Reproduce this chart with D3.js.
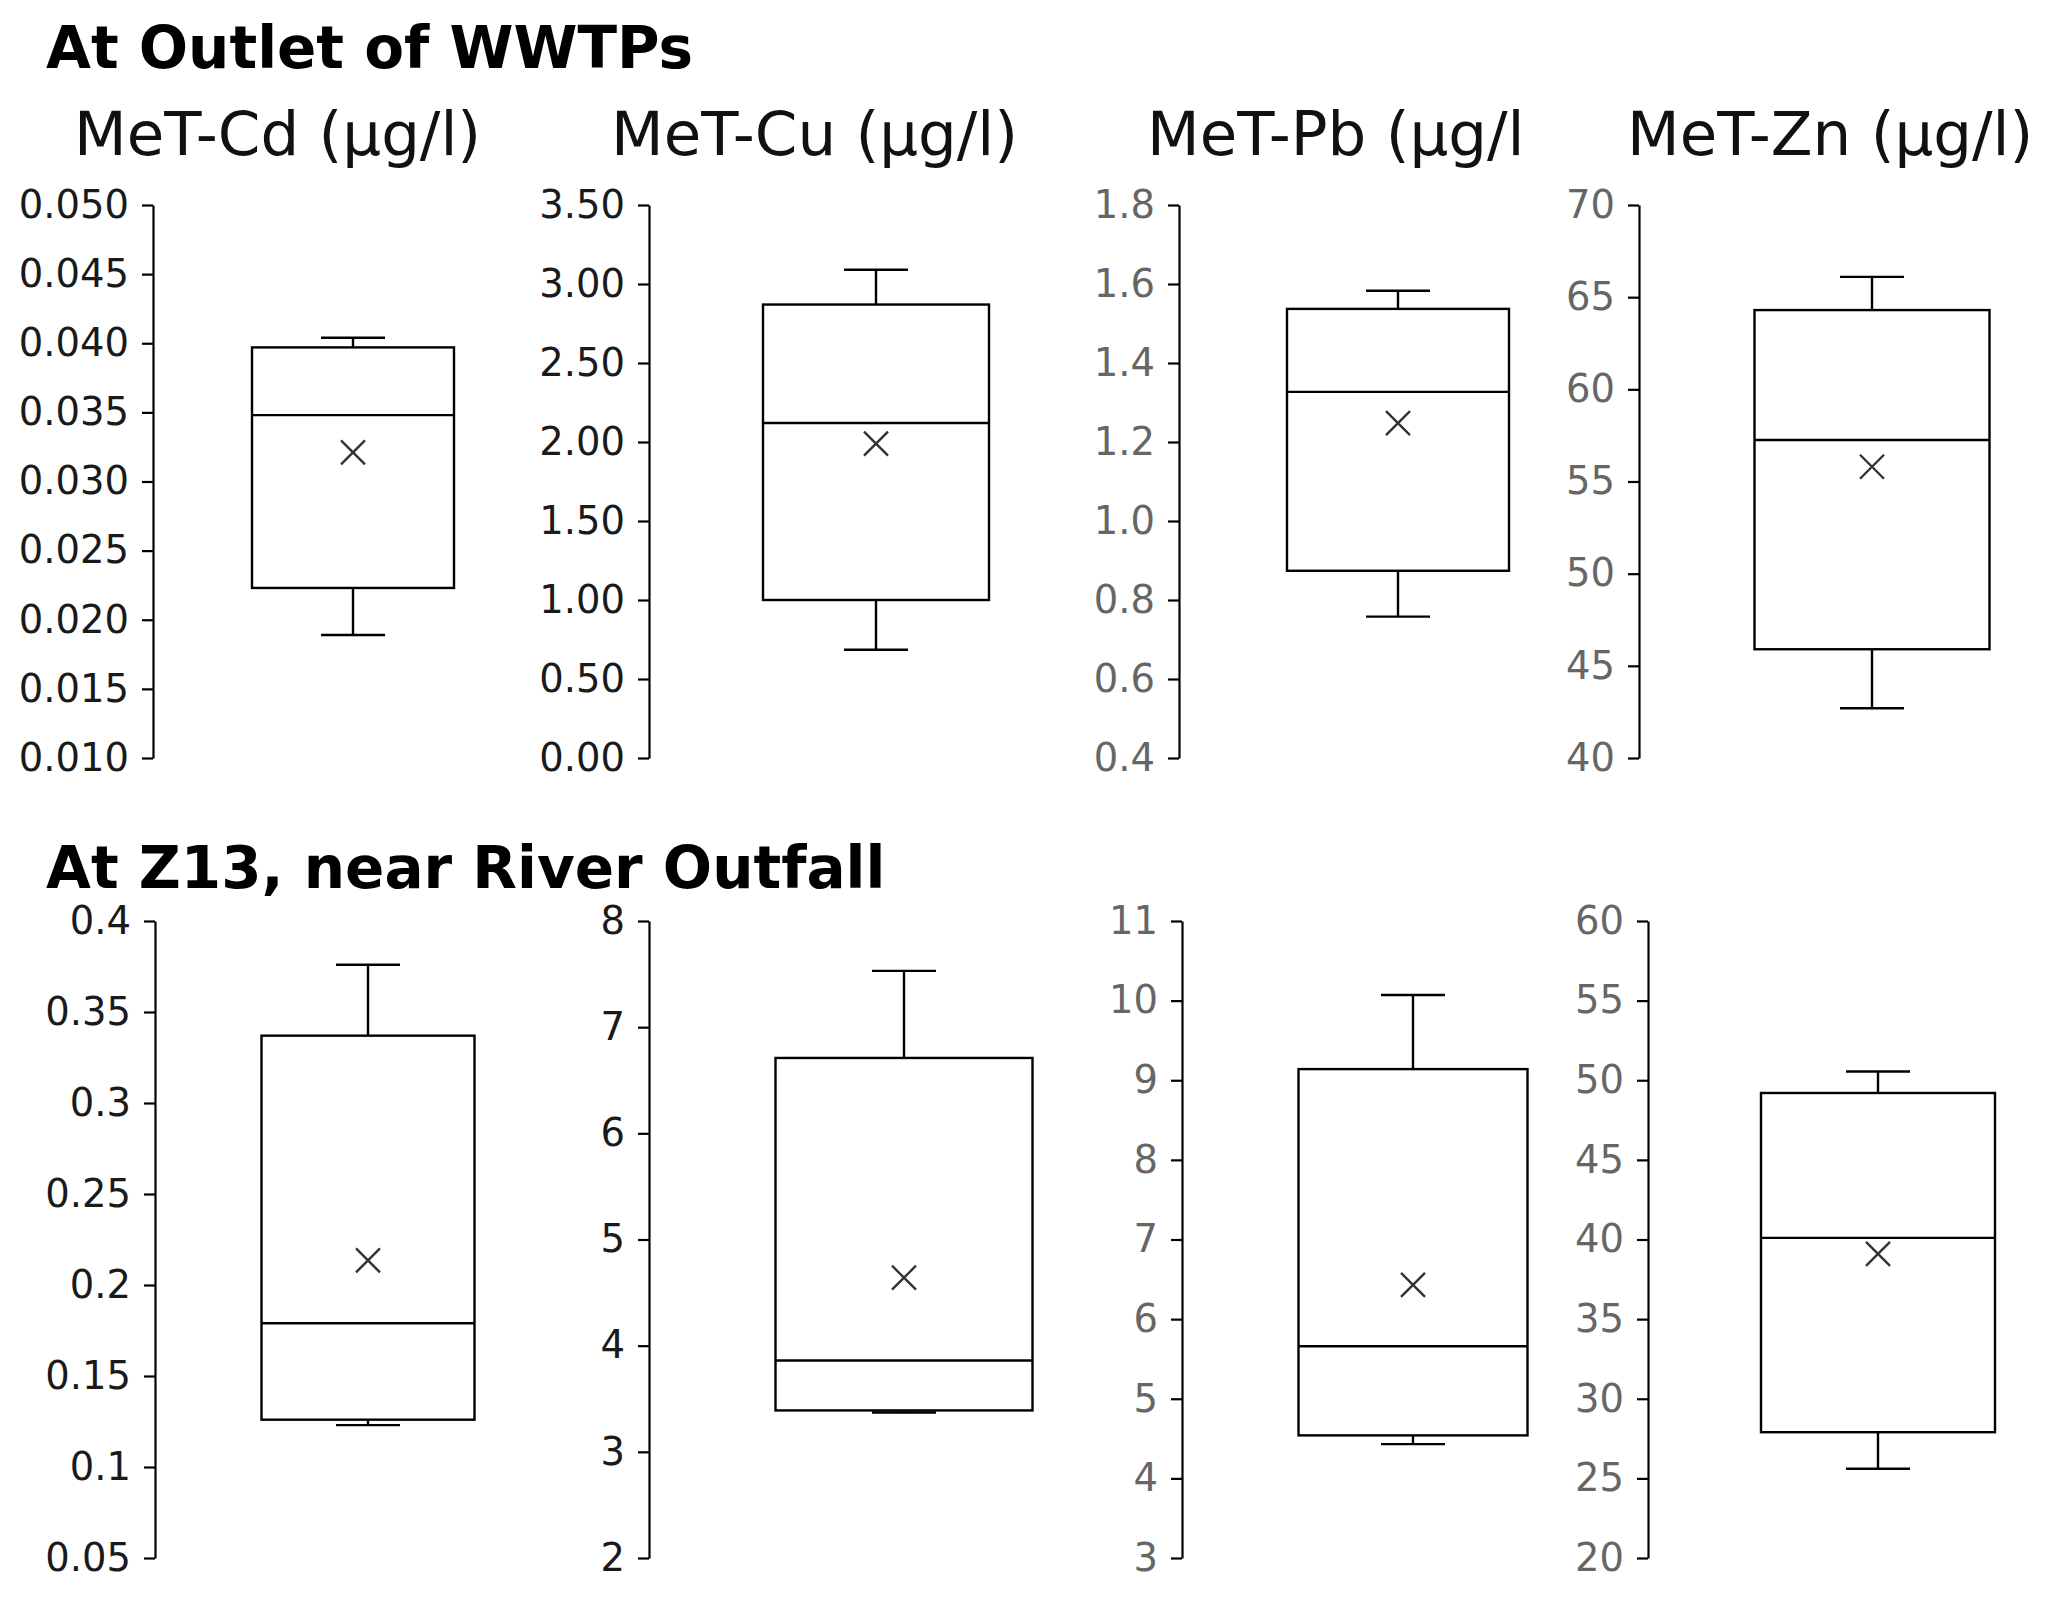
<!DOCTYPE html>
<html>
<head>
<meta charset="utf-8">
<script src="https://cdn.jsdelivr.net/npm/d3@7"></script>
<style>
  body { margin: 0; background: #fff; }
  svg { display: block; }
</style>
</head>
<body>
<script>
// chart data
var metals = ["MeT-Cd (µg/l)", "MeT-Cu (µg/l)", "MeT-Pb (µg/l", "MeT-Zn (µg/l)"];
var sites = ["At Outlet of WWTPs", "At Z13, near River Outfall"];

// box summaries for each metal, order Cd, Cu, Pb, Zn
var outletMin    = [0.0189, 0.685, 0.758, 42.7];
var outletQ1     = [0.0223, 1.00,  0.874, 45.9];
var outletMedian = [0.0348, 2.12,  1.327, 57.25];
var outletQ3     = [0.0397, 2.87,  1.537, 64.3];
var outletMax    = [0.0404, 3.09,  1.583, 66.1];
var outletMean   = [0.0321, 1.99,  1.248, 55.8];

var z13Min    = [0.123, 3.37, 4.43, 25.6];
var z13Q1     = [0.126, 3.39, 4.54, 27.9];
var z13Median = [0.179, 3.86, 5.66, 40.1];
var z13Q3     = [0.337, 6.71, 9.14, 49.2];
var z13Max    = [0.376, 7.53, 10.07, 50.55];
var z13Mean   = [0.2135, 4.64, 6.43, 39.1];

// axis ticks
var outletTicks = [
  [0.010, 0.015, 0.020, 0.025, 0.030, 0.035, 0.040, 0.045, 0.050],
  [0.00, 0.50, 1.00, 1.50, 2.00, 2.50, 3.00, 3.50],
  [0.4, 0.6, 0.8, 1.0, 1.2, 1.4, 1.6, 1.8],
  [40, 45, 50, 55, 60, 65, 70]
];
var z13Ticks = [
  [0.05, 0.1, 0.15, 0.2, 0.25, 0.3, 0.35, 0.4],
  [2, 3, 4, 5, 6, 7, 8],
  [3, 4, 5, 6, 7, 8, 9, 10, 11],
  [20, 25, 30, 35, 40, 45, 50, 55, 60]
];
var outletFormats = [".3f", ".2f", ".1f", "d"];
var z13Formats = ["~r", "d", "d", "d"];

// layout
var w = 2048, h = 1603;
var font = "'DejaVu Sans', Verdana, sans-serif";
var labelColors = ["#1a1a1a", "#1a1a1a", "#666", "#666"];

var rows = [
  {
    title: sites[0], titleY: 68,
    top: 205, bottom: 758,
    axisX: [153, 649, 1179, 1639],
    center: [353, 876, 1398, 1872],
    boxW: [202, 226, 222, 235],
    min: outletMin, q1: outletQ1, med: outletMedian, q3: outletQ3, max: outletMax, mean: outletMean,
    ticks: outletTicks, formats: outletFormats
  },
  {
    title: sites[1], titleY: 888,
    top: 921, bottom: 1558,
    axisX: [155, 649, 1182, 1648],
    center: [368, 904, 1413, 1878],
    boxW: [213, 257, 229, 234],
    min: z13Min, q1: z13Q1, med: z13Median, q3: z13Q3, max: z13Max, mean: z13Mean,
    ticks: z13Ticks, formats: z13Formats
  }
];
var subtitleX = [74, 611, 1147, 1627];
var capW = 64;

var svg = d3.select("body")
  .append("svg")
  .attr("width", w)
  .attr("height", h);

svg.append("rect").attr("width", w).attr("height", h).attr("fill", "#fff");

// metal names over the first row
svg.selectAll("text.metal")
  .data(metals)
  .enter().append("text")
  .attr("class", "metal")
  .attr("x", function(d, i) { return subtitleX[i]; })
  .attr("y", 155)
  .attr("font-family", font)
  .attr("font-size", 61)
  .attr("fill", "#111")
  .text(function(d) { return d; });

rows.forEach(function(row) {
  svg.append("text")
    .attr("x", 46)
    .attr("y", row.titleY)
    .attr("font-family", font)
    .attr("font-weight", "bold")
    .attr("font-size", 58)
    .attr("fill", "#000")
    .text(row.title);

  metals.forEach(function(m, i) {
    var ticks = row.ticks[i];
    var y = d3.scaleLinear()
      .domain([ticks[0], ticks[ticks.length - 1]])
      .range([row.bottom, row.top]);

    var g = svg.append("g");

    // axis
    var ax = g.append("g")
      .attr("transform", "translate(" + row.axisX[i] + ",0)")
      .call(d3.axisLeft(y)
        .tickValues(ticks)
        .tickSize(11)
        .tickPadding(13)
        .tickSizeOuter(0)
        .tickFormat(d3.format(row.formats[i])));
    ax.select(".domain").attr("stroke", "#000").attr("stroke-width", 2.2);
    ax.selectAll(".tick line").attr("stroke", "#000").attr("stroke-width", 2.2);
    ax.selectAll(".tick text")
      .attr("font-family", font)
      .attr("font-size", 38.5)
      .attr("fill", labelColors[i]);

    var cx = row.center[i], bw = row.boxW[i];
    var stroke = { "stroke": "#000", "stroke-width": 2.4, "fill": "none" };

    function line(x1, y1, x2, y2) {
      var l = g.append("line").attr("x1", x1).attr("y1", y1).attr("x2", x2).attr("y2", y2);
      for (var k in stroke) l.attr(k, stroke[k]);
    }

    // whiskers
    line(cx, y(row.max[i]), cx, y(row.q3[i]));
    line(cx, y(row.q1[i]), cx, y(row.min[i]));
    line(cx - capW / 2, y(row.max[i]), cx + capW / 2, y(row.max[i]));
    line(cx - capW / 2, y(row.min[i]), cx + capW / 2, y(row.min[i]));

    // box
    g.append("rect")
      .attr("x", cx - bw / 2)
      .attr("y", y(row.q3[i]))
      .attr("width", bw)
      .attr("height", y(row.q1[i]) - y(row.q3[i]))
      .attr("fill", "#fff")
      .attr("stroke", "#000")
      .attr("stroke-width", 2.4);

    // median
    line(cx - bw / 2, y(row.med[i]), cx + bw / 2, y(row.med[i]));

    // mean marker
    var my = y(row.mean[i]), s = 12;
    g.append("path")
      .attr("d", "M" + (cx - s) + "," + (my - s) + "L" + (cx + s) + "," + (my + s) +
                 "M" + (cx + s) + "," + (my - s) + "L" + (cx - s) + "," + (my + s))
      .attr("stroke", "#333")
      .attr("stroke-width", 2.4)
      .attr("fill", "none");
  });
});
</script>
</body>
</html>
